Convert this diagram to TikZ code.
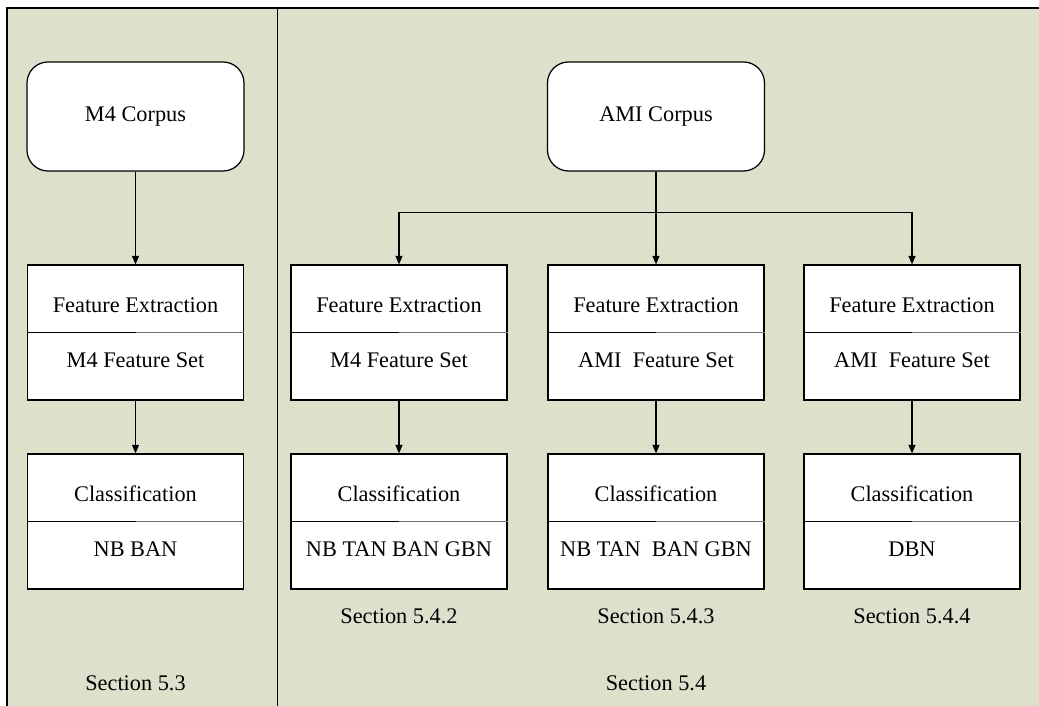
\documentclass[tikz,border=0pt]{standalone}
\usepackage{fontspec}
\setmainfont{Liberation Serif}
\usetikzlibrary{positioning, arrows.meta}
\definecolor{panelgreen}{RGB}{221,225,204}

\begin{document}
\begin{tikzpicture}[
    on grid,
    every node/.style={font=\fontsize{12.7}{15}\selectfont},
    corpus/.style={draw=black, fill=white, rounded corners=0.42cm, minimum width=4.34cm, minimum height=2.18cm, line width=0.7pt},
    stagebox/.style={draw=black, fill=white, minimum width=4.32cm, minimum height=2.7cm, line width=0.7pt},
    flow/.style={-{Triangle[length=0.17cm, width=0.14cm]}, line width=0.6pt}
]

   % Background panel
   \useasboundingbox (0,0) rectangle (20.78,-14.12);
   \fill[panelgreen] (0.14,-0.16) rectangle (20.78,-14.12);
   \draw[line width=0.6pt] (0.14,-14.12) -- (0.14,-0.16) -- (20.78,-0.16);
   \draw[line width=0.6pt] (5.55,-0.16) -- (5.55,-14.12);

   % Corpora
   \node[corpus] (m4) at (2.71,-2.33) {M4 Corpus};
   \node[corpus] (ami) [right=10.41cm of m4] {AMI Corpus};

   % Feature extraction
   \node[stagebox] (fe1) [below=4.32cm of m4] {};
   \node[stagebox] (fe3) [below=4.32cm of ami] {};
   \node[stagebox] (fe2) [left=5.14cm of fe3] {};
   \node[stagebox] (fe4) [right=5.12cm of fe3] {};

   % Classification
   \node[stagebox] (cl1) [below=3.78cm of fe1] {};
   \node[stagebox] (cl2) [below=3.78cm of fe2] {};
   \node[stagebox] (cl3) [below=3.78cm of fe3] {};
   \node[stagebox] (cl4) [below=3.78cm of fe4] {};

   % Box texts
   \foreach \n/\upper/\lower in {
       fe1/Feature Extraction/M4 Feature Set,
       fe2/Feature Extraction/M4 Feature Set,
       fe3/Feature Extraction/AMI\ \ Feature Set,
       fe4/Feature Extraction/AMI\ \ Feature Set,
       cl1/Classification/NB BAN,
       cl2/Classification/NB TAN BAN GBN,
       cl3/Classification/NB TAN\ \ BAN GBN,
       cl4/Classification/DBN}{
     \draw[line width=0.7pt] (\n.west) -- (\n.center);
     \draw[line width=0.7pt, black!55] (\n.center) -- (\n.east);
     \node (\n-up) [above=0.55cm of \n] {\upper};
     \node (\n-lo) [below=0.55cm of \n] {\lower};
   }

   % Section labels
   \node (s542) [below=1.89cm of cl2] {Section 5.4.2};
   \node (s543) [below=1.89cm of cl3] {Section 5.4.3};
   \node (s544) [below=1.89cm of cl4] {Section 5.4.4};
   \node (s53) [below=3.23cm of cl1] {Section 5.3};
   \node (s54) [below=3.23cm of cl3] {Section 5.4};

   % Flow
   \coordinate[below=0.81cm of ami.south] (fork);
   \draw[flow] (m4) -- (fe1);
   \draw[flow] (ami) -- (fe3);
   \draw[flow] (fork) -| (fe2);
   \draw[flow] (fork) -| (fe4);
   \foreach \i in {1,...,4}
     \draw[flow] (fe\i) -- (cl\i);

\end{tikzpicture}
\end{document}
